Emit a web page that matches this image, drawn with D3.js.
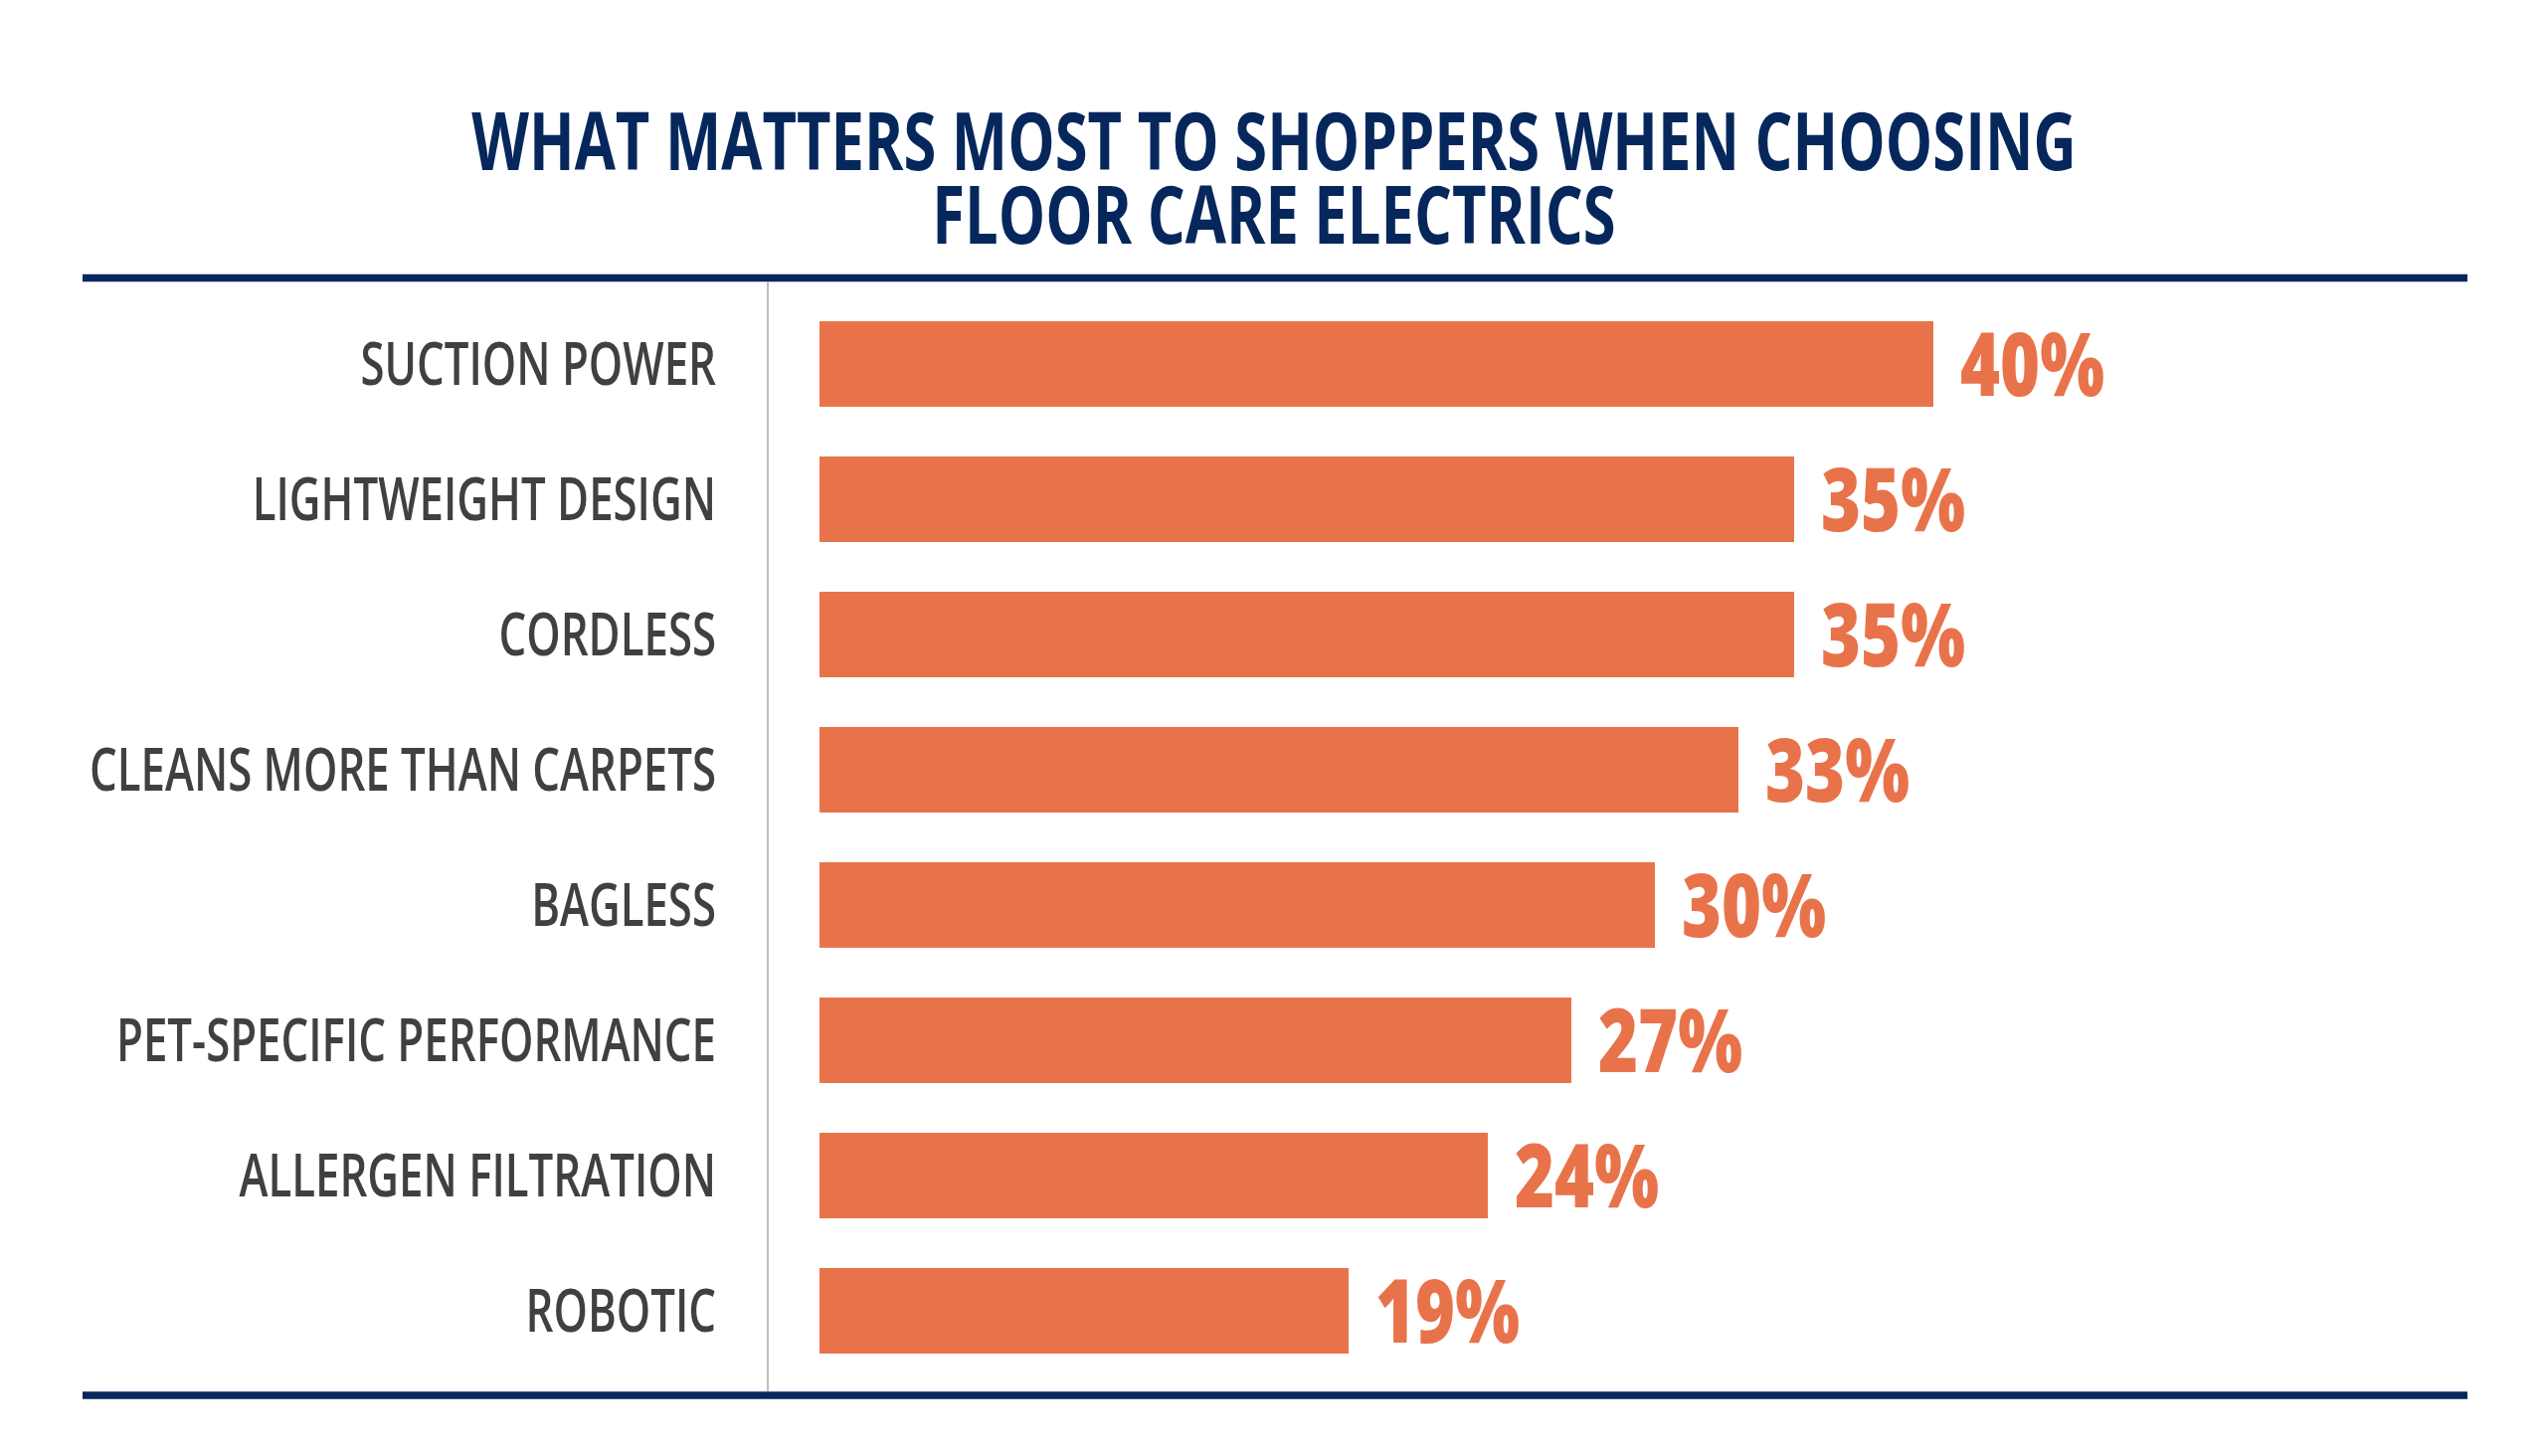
<!DOCTYPE html>
<html>
<head>
<meta charset="utf-8">
<script src="https://cdn.jsdelivr.net/npm/d3@7"></script>
<style>
  html, body { margin: 0; padding: 0; background: #ffffff; }
  svg { display: block; }
</style>
</head>
<body>
<svg id="chart" width="2560" height="1464"></svg>
<script>
// chart data
var titleLines = ['WHAT MATTERS MOST TO SHOPPERS WHEN CHOOSING', 'FLOOR CARE ELECTRICS'];
var categories = [
  'SUCTION POWER',
  'LIGHTWEIGHT DESIGN',
  'CORDLESS',
  'CLEANS MORE THAN CARPETS',
  'BAGLESS',
  'PET-SPECIFIC PERFORMANCE',
  'ALLERGEN FILTRATION',
  'ROBOTIC',
];
var values = [40, 35, 35, 33, 30, 27, 24, 19];

var navy = '#06275c';
var orange = '#e8734a';
var grey = '#404040';
var font = '"Open Sans", "Noto Sans", "DejaVu Sans", sans-serif';

var svg = d3.select('#chart');
var data = categories.map((c, i) => ({ cat: c, val: values[i] }));

var scX = d3.scaleLinear().domain([0, 40]).range([824, 1944]);
var scY = d3.scaleBand().domain(categories).range([323, 1361]).paddingInner(50 / 136).paddingOuter(0);

// squeeze a text style horizontally so a reference string hits a target width
function squeeze(str, size, weight, target) {
  var t = svg.append('text')
    .attr('font-family', font)
    .attr('font-size', size)
    .attr('font-weight', weight)
    .text(str);
  var w = t.node().getComputedTextLength();
  t.remove();
  return target / w;
}

// title: one text, two lines
var sxT = squeeze(titleLines[0], 80, 700, 1614);
svg.append('g')
  .attr('transform', 'translate(1281,171) scale(' + sxT + ',1)')
  .append('text')
  .attr('text-anchor', 'middle')
  .attr('font-family', font)
  .attr('font-size', 80)
  .attr('font-weight', 700)
  .attr('fill', navy)
  .selectAll('tspan')
  .data(titleLines)
  .enter()
  .append('tspan')
  .attr('x', 0)
  .attr('y', (d, i) => i * 74)
  .text((d) => d);

// rules
svg.append('line')
  .attr('x1', 83).attr('x2', 2481)
  .attr('y1', 279.5).attr('y2', 279.5)
  .attr('stroke', navy).attr('stroke-width', 7.5);
svg.append('line')
  .attr('x1', 83).attr('x2', 2481)
  .attr('y1', 1403).attr('y2', 1403)
  .attr('stroke', navy).attr('stroke-width', 7.5);
svg.append('line')
  .attr('x1', 772).attr('x2', 772)
  .attr('y1', 283).attr('y2', 1399)
  .attr('stroke', '#bdbdbd').attr('stroke-width', 2);

// bars
svg.append('g')
  .selectAll('rect')
  .data(data)
  .enter()
  .append('rect')
  .attr('x', scX(0))
  .attr('y', (d) => scY(d.cat))
  .attr('width', (d) => scX(d.val) - scX(0))
  .attr('height', scY.bandwidth())
  .attr('fill', orange);

// category labels
var sxL = squeeze('CLEANS MORE THAN CARPETS', 59, 600, 630);
svg.append('g')
  .selectAll('g')
  .data(data)
  .enter()
  .append('g')
  .attr('transform', (d) => 'translate(720,' + (scY(d.cat) + scY.bandwidth() / 2 + 21) + ') scale(' + sxL + ',1)')
  .append('text')
  .attr('text-anchor', 'end')
  .attr('font-family', font)
  .attr('font-size', 59)
  .attr('font-weight', 600)
  .attr('fill', grey)
  .text((d) => d.cat);

// value labels
var sxV = squeeze('40%', 88, 800, 145);
svg.append('g')
  .selectAll('g')
  .data(data)
  .enter()
  .append('g')
  .attr('transform', (d) => 'translate(' + (scX(d.val) + 27) + ',' + (scY(d.cat) + scY.bandwidth() / 2 + 32) + ') scale(' + sxV + ',1)')
  .append('text')
  .attr('font-family', font)
  .attr('font-size', 88)
  .attr('font-weight', 800)
  .attr('fill', orange)
  .text((d) => d.val + '%');
</script>
</body>
</html>
